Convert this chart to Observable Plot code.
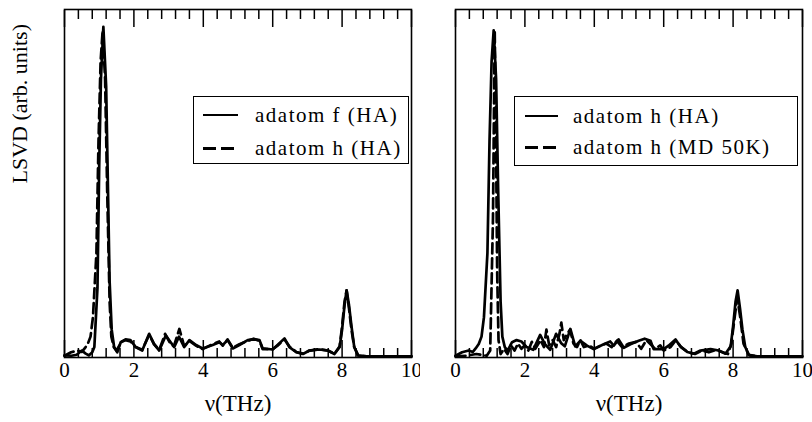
<!DOCTYPE html>
<html>
<head>
<meta charset="utf-8">
<script src="https://cdn.jsdelivr.net/npm/d3@7"></script>
<script src="https://cdn.jsdelivr.net/npm/@observablehq/plot@0.6"></script>
<style>
  html, body { margin: 0; padding: 0; background: #fff; }
  #chart { position: relative; width: 812px; height: 422px; }
  #chart, #chart svg, #chart text { font-family: "Liberation Serif", "Times New Roman", Times, serif !important; }
  .panel { position: absolute; top: 0; }
  .legend { position: absolute; background: #fff; border: 1.5px solid #000; box-sizing: border-box; font-family: "Liberation Serif", "Times New Roman", serif; font-size: 21px; letter-spacing: 1.5px; color: #000; }
  .row { position: absolute; left: 0; height: 24px; line-height: 24px; white-space: nowrap; }
  .sw { position: absolute; top: 11px; height: 0; border-top: 2.7px solid #000; }
  .sw.dash { border-top: none; height: 2.7px; top: 11px; background: repeating-linear-gradient(to right, #000 0 13px, transparent 13px 18px); }
  .lab { position: absolute; top: 0; }
</style>
</head>
<body>
<div id="chart"></div>
<script>
// ---- Data ----
const xTicksMajor = [0, 2, 4, 6, 8, 10];
const xTicksMinor = [0.4, 0.8, 1.2, 1.6, 2.4, 2.8, 3.2, 3.6, 4.4, 4.8, 5.2, 5.6, 6.4, 6.8, 7.2, 7.6, 8.4, 8.8, 9.2, 9.6];

const freqFHA = [0, 0.2, 0.35, 0.5, 0.6, 0.7, 0.8, 0.86, 0.95, 1.0, 1.05, 1.12, 1.2, 1.25, 1.3, 1.36, 1.43, 1.52, 1.62, 1.76, 1.9, 2.05, 2.24, 2.44, 2.58, 2.73, 2.92, 3.06, 3.16, 3.3, 3.45, 3.6, 3.79, 3.98, 4.27, 4.46, 4.56, 4.7, 4.85, 5.04, 5.28, 5.45, 5.62, 5.71, 6.0, 6.14, 6.34, 6.48, 6.68, 6.87, 7.06, 7.35, 7.59, 7.78, 7.93, 8.0, 8.07, 8.13, 8.2, 8.27, 8.35, 8.46, 8.7, 10];
const lsvdFHA = [0.6, 0.5, 0.8, 2.0, 1.2, 0.6, 1.5, 3, 20, 55, 80, 95, 78, 50, 22, 8, 3, 1.5, 4.4, 5.2, 5.0, 3.0, 2.0, 6.8, 3.9, 2.0, 6.3, 4.4, 3.0, 6.0, 3.0, 5.0, 3.6, 2.6, 3.6, 4.4, 3.6, 5.0, 2.6, 3.6, 5.0, 5.2, 5.0, 2.6, 2.3, 3.6, 5.5, 3.0, 1.5, 1.0, 2.0, 2.3, 2.0, 1.0, 3.0, 8, 15, 19.3, 15, 9, 3, 0.6, 0.3, 0.3];

const freqHHA = [0, 0.19, 0.38, 0.5, 0.58, 0.67, 0.75, 0.82, 0.92, 0.98, 1.04, 1.1, 1.17, 1.23, 1.3, 1.35, 1.42, 1.5, 1.63, 1.76, 1.9, 2.05, 2.24, 2.44, 2.58, 2.73, 2.9, 3.04, 3.15, 3.31, 3.45, 3.6, 3.79, 3.98, 4.27, 4.46, 4.56, 4.7, 4.85, 5.04, 5.28, 5.45, 5.62, 5.71, 6.0, 6.14, 6.34, 6.48, 6.68, 6.87, 7.06, 7.35, 7.59, 7.78, 7.93, 8.0, 8.07, 8.13, 8.2, 8.27, 8.35, 8.46, 8.7, 10];
const lsvdHHA = [0.5, 1.5, 2.0, 1.6, 2.6, 3.9, 6, 11.6, 30, 62, 85, 94, 80, 48, 16, 6, 3, 2.0, 4.4, 5.0, 4.6, 3.0, 2.2, 6.5, 3.8, 2.2, 6.8, 4.2, 3.2, 8.2, 3.2, 4.8, 3.4, 2.4, 3.8, 4.6, 3.4, 5.2, 2.8, 3.8, 4.8, 5.4, 4.8, 2.4, 2.4, 3.4, 5.2, 3.2, 1.6, 1.1, 2.0, 2.4, 2.0, 1.1, 3.2, 9, 16, 19.3, 14, 8, 3, 0.6, 0.3, 0.3];

const freqHMD = [0, 0.3, 0.6, 0.9, 1.0, 1.08, 1.13, 1.17, 1.2, 1.24, 1.3, 1.4, 1.5, 1.6, 1.7, 1.8, 1.9, 2.0, 2.1, 2.2, 2.3, 2.45, 2.55, 2.62, 2.7, 2.8, 2.9, 3.0, 3.05, 3.12, 3.2, 3.3, 3.4, 3.5, 3.6, 3.7, 3.85, 4.0, 4.2, 4.35, 4.5, 4.65, 4.8, 5.0, 5.2, 5.35, 5.5, 5.65, 5.75, 5.9, 6.0, 6.2, 6.35, 6.5, 6.7, 6.9, 7.1, 7.3, 7.5, 7.7, 7.85, 7.95, 8.05, 8.12, 8.2, 8.3, 8.45, 8.7, 10];
const lsvdHMD = [0.3, 0.5, 1.0, 0.5, 2, 40, 94, 60, 25, 5, 1, 2.5, 1, 3.5, 2, 4, 2.5, 3.5, 2, 4.5, 2.5, 5, 3, 8, 3.5, 5, 3, 7, 10, 5, 6.5, 8, 4, 3, 5, 3, 3.5, 2.5, 3.5, 4, 3, 4.8, 3, 4, 4.5, 2.5, 5, 3.5, 2.5, 3.5, 2, 3, 5, 3, 1.5, 1, 2, 1.5, 2.2, 1.5, 1, 4, 12, 17, 12, 4, 0.8, 0.3, 0.3];

const legendLeft = ["adatom f (HA)", "adatom h (HA)"];
const legendRight = ["adatom h (HA)", "adatom h (MD 50K)"];
const xLabel = "\u03bd(THz)";
const yLabel = "LSVD (arb. units)";

// ---- Drawing ----
const H = 422, MT = 9, MB = 65, FH = H - MT - MB, YMAX = 100;
const pxToY = px => px * YMAX / FH;
const toRows = (xs, ys) => xs.map((x, i) => ({x, y: ys[i]}));

function panel(width, marginLeft, marginRight, solid, dashed, showYLabel) {
  const marks = [
    Plot.line(solid, {x: "x", y: "y", stroke: "black", strokeWidth: 2.7, strokeLinejoin: "round"}),
    Plot.line(dashed, {x: "x", y: "y", stroke: "black", strokeWidth: 2.7, strokeDasharray: "10,5", strokeLinejoin: "round"}),
    Plot.frame({stroke: "black", strokeWidth: 1.6}),
    Plot.axisX(xTicksMajor, {anchor: "bottom", tickSize: -17, tickFormat: () => "", label: null, stroke: "black", strokeWidth: 1.5}),
    Plot.axisX(xTicksMinor, {anchor: "bottom", tickSize: -9, tickFormat: () => "", label: null, stroke: "black", strokeWidth: 1.5}),
    Plot.axisX(xTicksMajor, {anchor: "top", tickSize: -17, tickFormat: () => "", label: null, stroke: "black", strokeWidth: 1.5}),
    Plot.axisX(xTicksMinor, {anchor: "top", tickSize: -9, tickFormat: () => "", label: null, stroke: "black", strokeWidth: 1.5}),
    Plot.axisX(xTicksMajor, {anchor: "bottom", tickSize: 0, tickPadding: 5, label: null, fontSize: 21, fill: "black"}),
    Plot.text([xLabel], {text: d => d, frameAnchor: "bottom", dy: 53, fontSize: 23, fill: "black"})
  ];
  if (showYLabel) {
    marks.push(Plot.text([yLabel], {text: d => d, frameAnchor: "left", dx: -45, rotate: -90, fontSize: 22, fill: "black"}));
  }
  return Plot.plot({
    width, height: H, marginTop: MT, marginBottom: MB, marginLeft, marginRight,
    x: {domain: [0, 10], axis: null},
    y: {domain: [0, YMAX], axis: null},
    style: {fontFamily: "Liberation Serif, Times New Roman, serif", background: "white", color: "black", overflow: "visible"},
    marks
  });
}

const chart = document.getElementById("chart");
const leftPlot = panel(420, 64, 9, toRows(freqFHA, lsvdFHA), toRows(freqHHA, lsvdHHA), true);
const rightPlot = panel(392, 35, 10, toRows(freqHHA, lsvdHHA), toRows(freqHMD, lsvdHMD), false);
leftPlot.classList.add("panel"); leftPlot.style.left = "0px";
rightPlot.classList.add("panel"); rightPlot.style.left = "420px";
chart.appendChild(leftPlot);
chart.appendChild(rightPlot);

function legend(labels, box, swX, swW, textX, rowsTop) {
  const div = document.createElement("div");
  div.className = "legend";
  Object.assign(div.style, {left: box.left + "px", top: box.top + "px", width: box.width + "px", height: box.height + "px"});
  labels.forEach((lab, i) => {
    const row = document.createElement("div");
    row.className = "row";
    row.style.top = rowsTop[i] + "px";
    row.style.width = (box.width - 3) + "px";
    const sw = document.createElement("div");
    sw.className = i === 1 ? "sw dash" : "sw";
    sw.style.left = swX + "px";
    sw.style.width = swW + "px";
    const t = document.createElement("span");
    t.className = "lab";
    t.style.left = textX + "px";
    t.textContent = lab;
    row.appendChild(sw);
    row.appendChild(t);
    div.appendChild(row);
  });
  chart.appendChild(div);
}
legend(legendLeft, {left: 193, top: 96, width: 216, height: 68}, 9, 35, 61, [6, 39]);
legend(legendRight, {left: 514, top: 96, width: 284, height: 70}, 10, 33, 58, [7, 38]);
</script>
</body>
</html>
